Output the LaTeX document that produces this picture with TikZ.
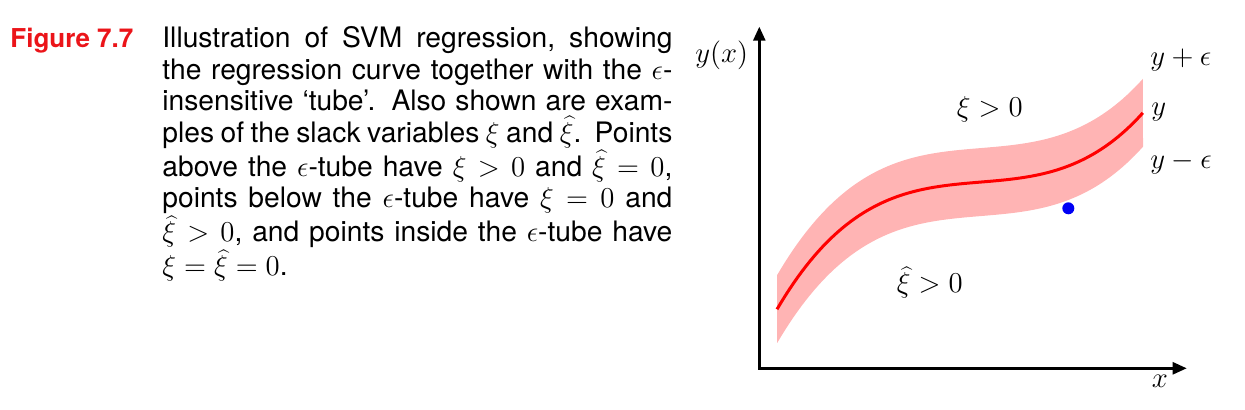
\documentclass[tikz,border=0pt]{standalone}
\usepackage{fontspec}
\setmainfont{TeX Gyre Heros}
\usetikzlibrary{arrows.meta}
\definecolor{capred}{RGB}{235,20,25}
\definecolor{tubepink}{RGB}{255,180,180}
\definecolor{dotblue}{RGB}{0,0,245}
\pgfmathdeclarefunction{regy}{1}{\pgfmathparse{368-(184.1+18.2*(#1)-27.1*(#1)*(#1)+80.1*(#1)*(#1)*(#1))}}
\newcommand{\capline}[1]{\hbox to 255pt{#1}}
\newcommand{\gap}{\hskip 0.25em plus 0.8em minus 0.09em\relax}
\newcommand{\sgap}{\hskip 0.5em plus 0.8em minus 0.12em\relax}
\newcommand{\capfont}{\fontsize{14.1}{15.7}\selectfont\thickmuskip=5mu plus 16mu\relax}
\begin{document}
\begin{tikzpicture}[x=0.5pt,y=-0.5pt,
  axis/.style={line width=1.25pt,line join=miter,{Triangle[length=7pt,width=6pt]}-{Triangle[length=7pt,width=6pt]}},
  tube/.style={fill=tubepink},
  reg/.style={draw=red,line width=1.5pt},
  lab/.style={inner sep=0pt,anchor=base west,font=\fontsize{14.4}{17}\selectfont},
  capfig/.style={inner sep=0pt,anchor=base west,text=capred,font=\fontsize{13}{15.7}\selectfont\bfseries},
  captext/.style={inner sep=0pt,anchor=base west,text width=255pt,font=\capfont},
  dot/.style={circle,fill=dotblue,inner sep=0pt,minimum size=6pt}]
\useasboundingbox (0,0) rectangle (1245,410);
% caption
\node[capfig] (fig) at (10,48) {Figure 7.7};
\node[captext] (cap) at (162,48) {%
\capline{Illustration\gap of\gap SVM\gap regression,\gap showing}
\capline{the\gap regression\gap curve\gap together\gap with\gap the\gap $\epsilon$-}
\capline{insensitive\gap `tube'.\sgap Also\gap shown\gap are\gap exam-}
\capline{ples\gap of\gap the\gap slack\gap variables\gap $\xi$\gap and\gap $\widehat{\xi}$.\sgap Points}
\capline{above\gap the\gap $\epsilon$-tube\gap have\gap $\xi > 0$\gap and\gap $\widehat{\xi} = 0$,}
\capline{points\gap below\gap the\gap $\epsilon$-tube\gap have\gap $\xi = 0$\gap and}
\capline{$\widehat{\xi} > 0$,\gap and\gap points\gap inside\gap the\gap $\epsilon$-tube\gap have}
\hbox{\thickmuskip=5mu plus 5mu$\xi = \widehat{\xi} = 0$.}};
% tube and curve
\fill[tube] plot[domain=-1:1,samples=90] ({960+183*\x},{regy(\x)-34})
  -- plot[domain=1:-1,samples=90] ({960+183*\x},{regy(\x)+34}) -- cycle;
\draw[reg] plot[domain=-1:1,samples=90] ({960+183*\x},{regy(\x)});
% axes
\coordinate (O) at (759.3,368.3);
\coordinate (ytip) at (759.3,26.7);
\coordinate (xtip) at (1186.7,368.3);
\draw[axis] (ytip) -- (O) -- (xtip);
% data point
\node[dot] (pt) at (1068.3,208.3) {};
% labels
\node[lab] (ylab) at (695,62.5) {$y(x)$};
\node[lab] (xlab) at (1151.5,387.5) {$x$};
\node[lab] (yplus) at (1150,65.7) {$y+\epsilon$};
\node[lab] (ymid) at (1151,115.5) {$y$};
\node[lab] (yminus) at (1150,169) {$y-\epsilon$};
\node[lab] (xiup) at (956.5,116.5) {$\xi>0$};
\node[lab] (xidown) at (896.5,293) {$\widehat{\xi}>0$};
\end{tikzpicture}
\end{document}
